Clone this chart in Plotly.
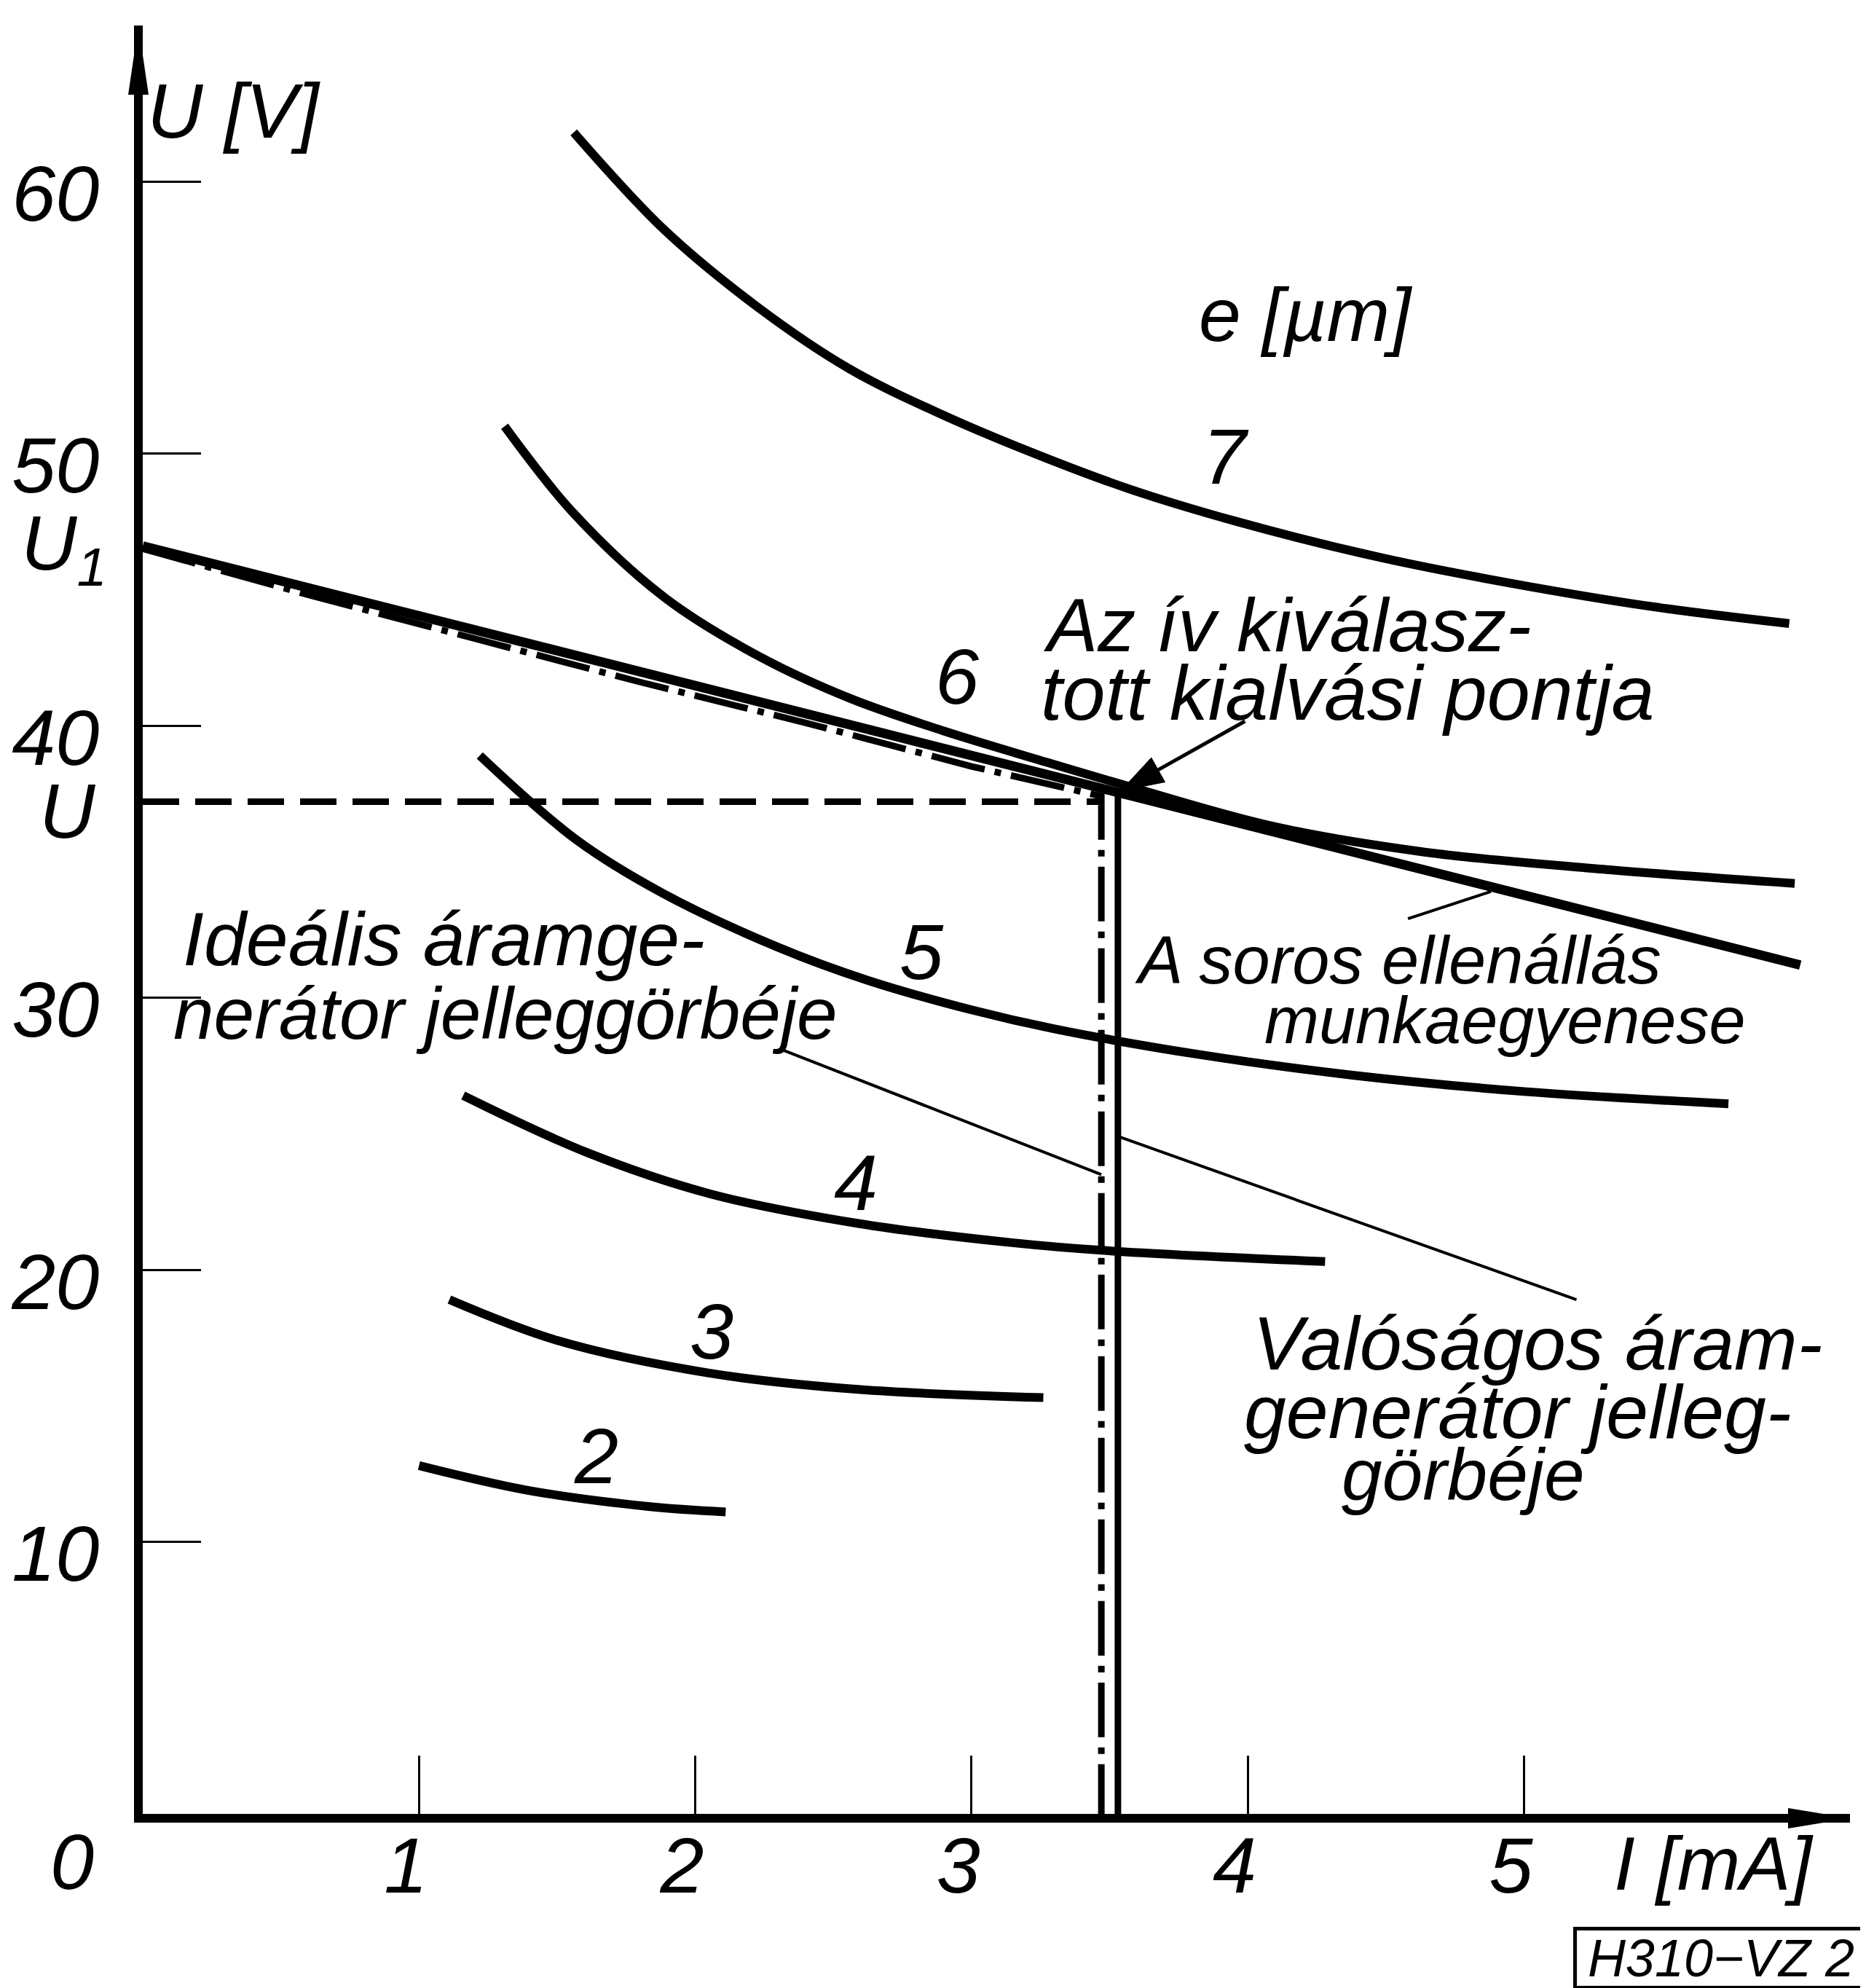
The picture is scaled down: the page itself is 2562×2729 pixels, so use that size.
import plotly.graph_objects as go

# ---------------- data ----------------
X_MAX = 6.18   # I [mA] at the arrow tip
Y_MAX = 65.73  # U [V] at the arrow tip

x_ticks = [1, 2, 3, 4, 5]
y_ticks = [10, 20, 30, 40, 50, 60]

# arc characteristics for gap e [µm]
I_e2 = [1.00, 1.39, 1.83, 2.11]
U_e2 = [12.8, 11.9, 11.3, 11.1]
I_e3 = [1.11, 1.50, 2.05, 2.59, 3.26]
U_e3 = [18.9, 17.4, 16.2, 15.6, 15.3]
I_e4 = [1.16, 1.61, 2.05, 2.59, 3.14, 3.49, 4.28]
U_e4 = [26.4, 24.3, 22.8, 21.7, 21.0, 20.7, 20.3]
I_e5 = [1.22, 1.57, 1.88, 2.30, 2.62, 3.00, 3.30, 3.83, 4.38, 5.00, 5.74]
U_e5 = [38.9, 35.8, 33.85, 31.85, 30.65, 29.55, 28.85, 27.9, 27.15, 26.55, 26.1]
I_e6 = [1.31, 1.56, 1.89, 2.23, 2.56, 2.90, 3.24, 3.54, 4.09, 4.64, 5.31, 5.98]
U_e6 = [51.0, 47.8, 44.7, 42.55, 41.0, 39.8, 38.75, 37.85, 36.3, 35.35, 34.7, 34.2]
I_e7 = [1.56, 1.89, 2.23, 2.56, 2.90, 3.24, 3.57, 3.96, 4.47, 4.97, 5.48, 5.96]
U_e7 = [61.8, 58.2, 55.35, 53.1, 51.4, 49.95, 48.7, 47.5, 46.2, 45.2, 44.35, 43.75]

curve_names = ["2", "3", "4", "5", "6", "7"]
curve_I = [I_e2, I_e3, I_e4, I_e5, I_e6, I_e7]
curve_U = [U_e2, U_e3, U_e4, U_e5, U_e6, U_e7]
label_I = [1.64, 2.06, 2.58, 2.82, 2.95, 3.92]
label_U = [13.15, 17.75, 23.2, 31.7, 41.8, 49.9]

# working line of the series resistor
I_work = [0.0, 6.0]
U_work = [46.6, 31.2]

# ideal current generator characteristic (dash-dot)
I_ideal = [0.0, 0.6, 1.2, 1.8, 2.4, 3.0, 3.47, 3.47]
U_ideal = [46.5, 44.8, 43.2, 41.6, 40.1, 38.5, 37.4, 0.0]

# real current generator characteristic (solid)
I_real = [3.53, 3.53]
U_real = [37.6, 0.0]

# operating voltage U (dashed)
I_Uline = [0.0, 3.47]
U_Uline = [37.2, 37.2]

# leader lines
lead_ideal_I = [2.31, 3.47]
lead_ideal_U = [28.1, 23.5]
lead_real_I = [3.53, 5.19]
lead_real_U = [24.9, 18.9]
lead_work_I = [4.58, 4.88]
lead_work_U = [32.9, 33.9]
lead_op_I = [3.99, 3.54]
lead_op_U = [40.16, 37.6]

FONT = "Liberation Sans, Arial, sans-serif"

fig = go.Figure()

for I, U in zip(curve_I, curve_U):
    fig.add_trace(go.Scatter(x=I, y=U, mode="lines",
                             line=dict(color="black", width=12, shape="spline", smoothing=1.0),
                             showlegend=False, hoverinfo="skip"))

fig.add_trace(go.Scatter(x=I_work, y=U_work, mode="lines",
                         line=dict(color="black", width=13), showlegend=False))
fig.add_trace(go.Scatter(x=I_ideal, y=U_ideal, mode="lines",
                         line=dict(color="black", width=9, dash="75px,14px,9px,14px"),
                         showlegend=False))
fig.add_trace(go.Scatter(x=I_real, y=U_real, mode="lines",
                         line=dict(color="black", width=9), showlegend=False))
fig.add_trace(go.Scatter(x=I_Uline, y=U_Uline, mode="lines",
                         line=dict(color="black", width=9, dash="50px,22px"),
                         showlegend=False))

for lx, ly in [(lead_ideal_I, lead_ideal_U), (lead_real_I, lead_real_U),
               (lead_work_I, lead_work_U)]:
    fig.add_trace(go.Scatter(x=lx, y=ly, mode="lines",
                             line=dict(color="black", width=4), showlegend=False))

fig.add_trace(go.Scatter(x=lead_op_I, y=lead_op_U, mode="lines+markers",
                         line=dict(color="black", width=5),
                         marker=dict(symbol="arrow", size=[1, 62], angleref="previous",
                                     color="black", opacity=1,
                                     line=dict(width=1, color="black")),
                         showlegend=False))

def txt(x, y, s, size=104, xanchor="left", yanchor="middle", ref="data"):
    kw = {}
    if ref == "paper":
        kw = dict(xref="paper", yref="paper")
    fig.add_annotation(x=x, y=y, text=s, showarrow=False, xanchor=xanchor, yanchor=yanchor,
                       font=dict(family=FONT, size=size, color="black", style="italic"), **kw)

for name, lx, ly in zip(curve_names, label_I, label_U):
    txt(lx, ly, name, size=108, xanchor="center")

txt(4.21, 55.1, "e [µm]", size=104, xanchor="center")
txt(0.33, 62.6, "U [V]", size=106, xanchor="center")

# labels outside the axes -> paper coordinates
txt(-0.0461, 0.7075, "U<sub>1</sub>", size=106, xanchor="center", ref="paper")
txt(-0.0439, 0.5609, "U", size=106, xanchor="center", ref="paper")
txt(-0.0414, -0.0265, "0", size=108, xanchor="center", ref="paper")
txt(0.9202, -0.0277, "I [mA]", size=104, xanchor="center", ref="paper")

txt(0.14, 32.16, "Ideális áramge-", size=104)
txt(0.105, 29.42, "nerátor jelleggörbéje", size=100)
txt(3.253, 43.69, "Az ív kiválasz-", size=104)
txt(3.245, 41.2, "tott kialvási pontja", size=106)
txt(3.586, 31.38, "A soros ellenállás", size=92)
txt(4.055, 29.16, "munkaegyenese", size=90)
txt(4.013, 17.3, "Valóságos áram-", size=104)
txt(3.98, 14.78, "generátor jelleg-", size=104)
txt(4.334, 12.48, "görbéje", size=100)

fig.add_annotation(x=0.9245, y=-0.0805, xref="paper", yref="paper", text="H310−VZ 2",
                   showarrow=False, xanchor="center", yanchor="middle",
                   width=392, height=72, align="center",
                   font=dict(family=FONT, size=72, color="black", style="italic"),
                   bordercolor="black", borderwidth=5, borderpad=2)

# axis arrowheads
fig.add_shape(type="path", xref="paper", yref="paper", xsizemode="pixel", ysizemode="pixel",
              xanchor=1, yanchor=0, path="M 0 -6 L -85 8 L -85 -20 Z",
              fillcolor="black", line=dict(width=0))
fig.add_shape(type="path", xref="paper", yref="paper", xsizemode="pixel", ysizemode="pixel",
              xanchor=0, yanchor=1, path="M -6 0 L -20 -95 L 8 -95 Z",
              fillcolor="black", line=dict(width=0))

axis_common = dict(showgrid=False, zeroline=False, automargin=False,
                   showline=True, linecolor="black", linewidth=12,
                   ticks="inside", ticklen=80, tickwidth=3, tickcolor="black",
                   tickfont=dict(family=FONT, size=108, color="black", style="italic"))

fig.update_layout(
    template="none",
    width=2562, height=2729,
    margin=dict(l=188, r=30, t=27, b=247, autoexpand=False),
    plot_bgcolor="white", paper_bgcolor="white",
    showlegend=False,
    xaxis=dict(range=[0, X_MAX], tickvals=x_ticks, ticktext=[str(v) for v in x_ticks],
               ticklabelstandoff=-34, ticklabelshift=-18, **axis_common),
    yaxis=dict(range=[0, Y_MAX], tickvals=y_ticks, ticktext=[str(v) for v in y_ticks],
               ticklabelstandoff=26, ticklabelshift=16, **axis_common),
)

fig.write_html("out.html")
